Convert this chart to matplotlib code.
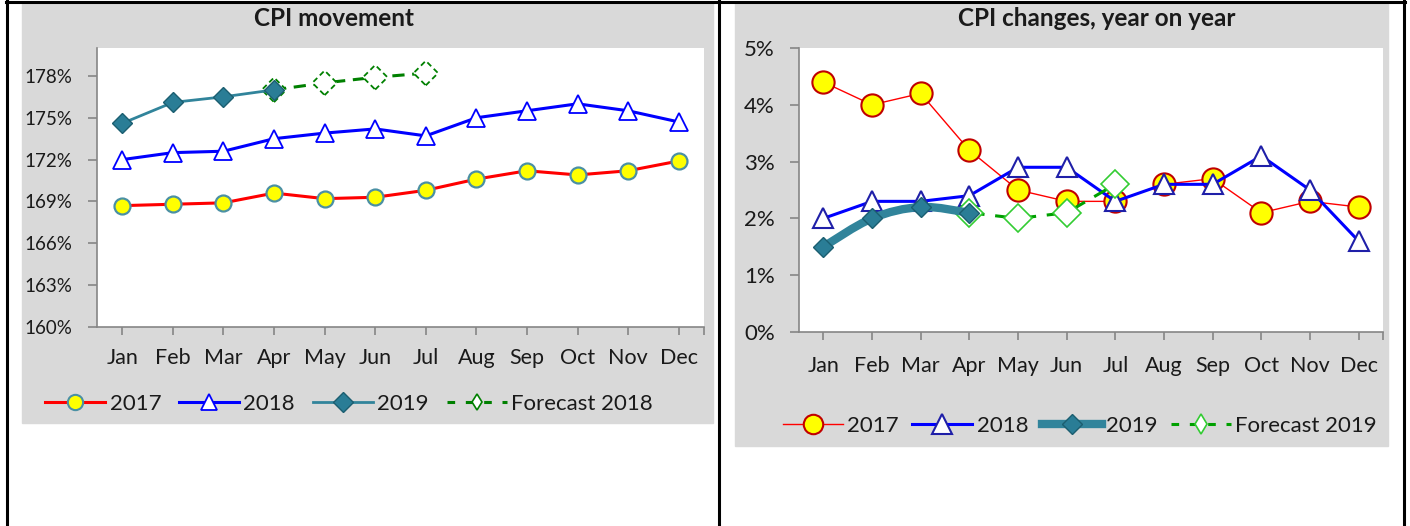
import matplotlib
matplotlib.use("Agg")
import matplotlib.pyplot as plt
from matplotlib.lines import Line2D
from matplotlib.patches import Rectangle, PathPatch
from matplotlib.path import Path
import numpy as np

plt.rcParams['font.family'] = ['Lato', 'DejaVu Sans']

months = ['Jan', 'Feb', 'Mar', 'Apr', 'May', 'Jun', 'Jul', 'Aug', 'Sep', 'Oct', 'Nov', 'Dec']

# CPI movement (index, %)
cpi_2017 = [168.7, 168.8, 168.9, 169.6, 169.2, 169.3, 169.8, 170.6, 171.2, 170.9, 171.2, 171.9]
cpi_2018 = [172.0, 172.5, 172.6, 173.5, 173.9, 174.2, 173.7, 175.0, 175.5, 176.0, 175.5, 174.7]
cpi_2019 = [174.6, 176.1, 176.5, 177.0]
cpi_fc_months = ['Apr', 'May', 'Jun', 'Jul']
cpi_fc = [177.0, 177.5, 177.9, 178.2]

# CPI changes, year on year (%)
yoy_2017 = [4.4, 4.0, 4.2, 3.2, 2.5, 2.3, 2.3, 2.6, 2.7, 2.1, 2.3, 2.2]
yoy_2018 = [2.0, 2.3, 2.3, 2.4, 2.9, 2.9, 2.3, 2.6, 2.6, 3.1, 2.5, 1.6]
yoy_2019 = [1.5, 2.0, 2.2, 2.1]
yoy_fc_months = ['Apr', 'May', 'Jun', 'Jul']
yoy_fc = [2.1, 2.0, 2.1, 2.6]

W, H = 1410, 526
def fx(px):
    return px / W
def fy(py):
    return 1 - py / H

fig = plt.figure(figsize=(W / 100, H / 100), dpi=100)
fig.patch.set_facecolor('white')

# gray chart panels
fig.patches.append(Rectangle((fx(22), fy(423)), (713 - 22) / W, (423 - 3) / H,
                             transform=fig.transFigure, color='#D9D9D9', zorder=-5))
fig.patches.append(Rectangle((fx(735), fy(446)), (1388 - 735) / W, (446 - 3) / H,
                             transform=fig.transFigure, color='#D9D9D9', zorder=-5))

# table borders
for x in [7, 719, 1404]:
    fig.add_artist(Line2D([fx(x), fx(x)], [fy(0), fy(526)], color='black', lw=2.2))
fig.add_artist(Line2D([fx(6), fx(1405)], [fy(1.5), fy(1.5)], color='black', lw=2.2))

grey = '#868686'
txt = '#1a1a1a'
teal = '#31849B'


def style_axes(ax, ylabsize, xpad):
    for s in ['top', 'right']:
        ax.spines[s].set_visible(False)
    for s in ['left', 'bottom']:
        ax.spines[s].set_color(grey)
        ax.spines[s].set_linewidth(1.2)
    ax.set_xlim(-0.5, 11.5)
    ax.set_xticks(range(12))
    ax.set_xticklabels(months)
    ax.set_xticks([11.5], minor=True)
    ax.tick_params(axis='x', which='both', length=6, width=1.2, color=grey,
                   labelsize=15.5, labelcolor=txt, pad=xpad)
    ax.tick_params(axis='y', length=6.5, width=1.2, color=grey,
                   labelsize=ylabsize, labelcolor=txt, pad=11)


# ---------------- left: CPI movement ----------------
ax1 = fig.add_axes([fx(97), fy(327), (704 - 97) / W, (327 - 48) / H])
ax1.set_zorder(2)
x = np.arange(12)
fc_x = [months.index(m) for m in cpi_fc_months]

ax1.plot(x, cpi_2017, color='#FF0000', lw=2.2, marker='o', ms=11.5,
         mfc='#FFFF00', mec='#4A90A4', mew=1.6, zorder=3)
ax1.plot(x, cpi_2018, color='#0000FF', lw=2.2, marker='^', ms=13,
         mfc='white', mec='#0000FF', mew=1.3, zorder=3)
ax1.plot(fc_x, cpi_fc, color='#008000', lw=2.2, ls=(0, (4, 2.5)), zorder=4)
ax1.scatter(fc_x, cpi_fc, s=12.5 ** 2, marker='D', facecolors='white',
            edgecolors='#008000', linewidths=1.3, linestyles=(0, (3, 2)), zorder=4)
ax1.plot(x[:len(cpi_2019)], cpi_2019, color=teal, lw=2, marker='D', ms=10.5,
         mfc='#2A7D96', mec='#1B5E70', mew=1, zorder=5)

ax1.set_ylim(160, 180)
ax1.set_yticks(np.arange(160, 179, 3))
ax1.set_yticklabels([f'{v}%' for v in range(160, 179, 3)])
style_axes(ax1, 13.5, 9)

fig.text(fx(334), fy(19), 'CPI movement', ha='center', va='center',
         fontsize=17.5, fontweight='bold', color=txt)

h1 = [Line2D([], [], color='#FF0000', lw=2.2, marker='o', ms=11, mfc='#FFFF00', mec='#4A90A4', mew=1.5),
      Line2D([], [], color='#0000FF', lw=2.2, marker='^', ms=12, mfc='white', mec='#0000FF', mew=1.3),
      Line2D([], [], color=teal, lw=2, marker='D', ms=10, mfc='#2A7D96', mec='#1B5E70', mew=1),
      Line2D([], [], color='#008000', lw=2.2, ls=(0, (2.5, 3.5)), marker='d', ms=8, mfc='white', mec='#008000', mew=1.2)]
fig.legend(h1, ['2017', '2018', '2019', 'Forecast 2018'], loc='center',
           bbox_to_anchor=(fx(349), fy(404)), ncol=4, frameon=False, fontsize=16,
           handlelength=2.7, handletextpad=0.2, columnspacing=0.8, labelcolor=txt)

# ---------------- right: CPI changes, year on year ----------------
ax2 = fig.add_axes([fx(799), fy(332), (1383 - 799) / W, (332 - 48) / H])
ax2.set_zorder(2)
fc2_x = [months.index(m) for m in yoy_fc_months]

ax2.plot(x, yoy_2017, color='#FF0000', lw=1, marker='o', ms=16,
         mfc='#FFFF00', mec='#C00000', mew=1.5, zorder=2)
ax2.plot(x, yoy_2018, color='#0000FF', lw=2.2, marker='^', ms=15,
         mfc='white', mec='#1F1FA8', mew=1.5, zorder=3)
ax2.plot(fc2_x, yoy_fc, color='#00A000', lw=2.2, ls=(0, (5, 3.5)), marker='D', ms=14,
         mfc='white', mec='#33CC33', mew=1.2, zorder=4)

# smoothed line for 2019 (Bezier through the data points)
p = np.column_stack([x[:len(yoy_2019)], yoy_2019]).astype(float)
verts = [p[0]]
codes = [Path.MOVETO]
for i in range(len(p) - 1):
    p0 = p[i - 1] if i > 0 else p[i]
    p3 = p[i + 2] if i + 2 < len(p) else p[i + 1]
    c1 = p[i] + (p[i + 1] - p0) / 6
    c2 = p[i + 1] - (p3 - p[i]) / 6
    verts += [c1, c2, p[i + 1]]
    codes += [Path.CURVE4] * 3
ax2.add_patch(PathPatch(Path(verts, codes), facecolor='none', edgecolor=teal,
                        lw=6, capstyle='round', joinstyle='round', zorder=5))
ax2.plot(x[:len(yoy_2019)], yoy_2019, ls='none', marker='D', ms=10,
         mfc='#2A7D96', mec='#1B5E70', mew=1, zorder=6)

ax2.set_ylim(0, 5)
ax2.set_yticks(range(6))
ax2.set_yticklabels([f'{v}%' for v in range(6)])
style_axes(ax2, 16, 11)

fig.text(fx(1097), fy(19), 'CPI changes, year on year', ha='center', va='center',
         fontsize=17.5, fontweight='bold', color=txt)

h2 = [Line2D([], [], color='#FF0000', lw=1, marker='o', ms=14, mfc='#FFFF00', mec='#C00000', mew=1.5),
      Line2D([], [], color='#0000FF', lw=2.2, marker='^', ms=14, mfc='white', mec='#1F1FA8', mew=1.5),
      Line2D([], [], color=teal, lw=6, marker='D', ms=10, mfc='#2A7D96', mec='#1B5E70', mew=1),
      Line2D([], [], color='#00A000', lw=2.2, ls=(0, (2.5, 3.5)), marker='d', ms=10, mfc='white', mec='#33CC33', mew=1.2)]
fig.legend(h2, ['2017', '2018', '2019', 'Forecast 2019'], loc='center',
           bbox_to_anchor=(fx(1080), fy(426)), ncol=4, frameon=False, fontsize=16,
           handlelength=2.7, handletextpad=0.2, columnspacing=0.6, labelcolor=txt)

fig.savefig('out.png', dpi=100)
